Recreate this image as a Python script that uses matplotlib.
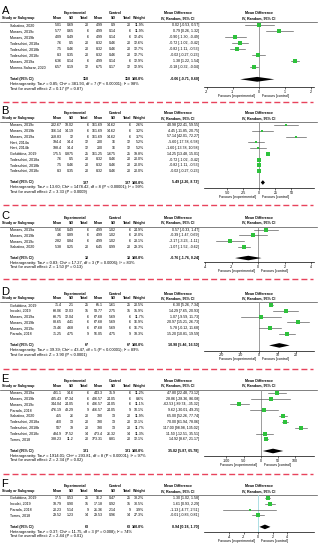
import matplotlib
matplotlib.use("Agg")
import matplotlib.pyplot as plt
import matplotlib.transforms as mtransforms
import numpy as np

plt.rcParams['font.family'] = ['Liberation Sans', 'DejaVu Sans']
plt.rcParams['axes.unicode_minus'] = False

# ---------------- data ----------------
# A
A_study = ["Sabatino, 2020", "Moraes, 2019c", "Moraes, 2019b", "Todeschini, 2018a",
           "Todeschini, 2018b", "Todeschini, 2018c", "Moraes, 2019a", "Moreno-Salazar, 2020"]
A_exp = [("5.01", "0.69", "20"), ("5.77", "0.65", "6"), ("4.09", "0.49", "6"), ("7.6", "0.5", "20"),
         ("7.5", "0.46", "20"), ("8.3", "0.35", "20"), ("6.36", "0.14", "6"), ("6.57", "0.19", "12")]
A_ctl = [("4.99", "0.9", "20"), ("4.99", "0.14", "6"), ("4.99", "0.14", "6"), ("8.32", "0.46", "20"),
         ("8.32", "0.46", "20"), ("8.32", "0.46", "20"), ("4.99", "0.14", "6"), ("6.75", "0.17", "12")]
A_weight = [11.9, 11.9, 12.4, 12.6, 12.7, 12.7, 12.9, 12.9]
A_md = [0.02, 0.79, -0.90, -0.72, -0.82, -0.02, 1.38, -0.18]
A_lo = [-0.53, 0.26, -1.30, -1.02, -1.11, -0.27, 1.22, -0.32]
A_hi = [0.57, 1.32, -0.49, -0.42, -0.53, 0.23, 1.54, -0.04]
A_total = (110, 110, -0.06, -0.71, 0.60)
A_het = "Heterogeneity: Tau² = 0.85; Chi² = 381.93, df = 7 (P < 0.00001); I² = 98%"
A_test = "Test for overall effect: Z = 0.17 (P = 0.87)"
A_ticks = [-2, -1, 0, 1, 2]

# B
B_study = ["Moraes, 2019c", "Moraes, 2019b", "Moraes, 2019a", "Hart, 2014a", "Hart, 2014b",
           "Golubkina, 2019", "Todeschini, 2018a", "Todeschini, 2018b", "Todeschini, 2018c"]
B_exp = [("202.67", "18.02", "6"), ("166.14", "14.19", "6"), ("218.83", "12", "6"), ("194.4", "14.4", "12"),
         ("198.4", "14.4", "12"), ("175.5", "0.875", "25"), ("7.6", "0.5", "20"), ("7.5", "0.46", "20"),
         ("8.3", "0.35", "20")]
B_ctl = [("161.69", "14.62", "6"), ("161.69", "14.62", "6"), ("161.69", "14.62", "6"), ("200", "16", "12"),
         ("200", "16", "12"), ("161.25", "1.675", "25"), ("8.32", "0.46", "20"), ("8.32", "0.46", "20"),
         ("8.32", "0.46", "20")]
B_weight = [2.6, 3.2, 3.7, 5.2, 5.2, 19.8, 20.0, 20.0, 20.0]
B_md = [40.98, 4.45, 57.14, -5.60, -1.60, 14.25, -0.72, -0.82, -0.02]
B_lo = [22.41, -11.85, 42.01, -17.78, -13.78, 13.48, -1.02, -1.11, -0.27]
B_hi = [59.55, 20.75, 72.27, 6.58, 10.58, 15.01, -0.42, -0.53, 0.23]
B_total = (127, 127, 5.49, 2.26, 8.73)
B_het = "Heterogeneity: Tau² = 13.60; Chi² = 1478.42, df = 8 (P < 0.00001); I² = 99%"
B_test = "Test for overall effect: Z = 3.33 (P = 0.0009)"
B_ticks = [-50, -25, 0, 25, 50]

# C
C_study = ["Moraes, 2019a", "Moraes, 2019b", "Moraes, 2019c", "Sabatino, 2020"]
C_exp = [("5.56", "0.49", "6"), ("4.6", "0.89", "6"), ("2.82", "0.84", "6"), ("5.38", "0.25", "20")]
C_ctl = [("4.99", "1.02", "6"), ("4.99", "1.02", "6"), ("4.99", "1.02", "6"), ("6.45", "0.99", "20")]
C_weight = [24.9, 22.0, 23.1, 29.3]
C_md = [0.57, -0.39, -2.17, -1.07]
C_lo = [-0.33, -1.47, -3.23, -1.52]
C_hi = [1.47, 0.69, -1.11, -0.62]
C_total = (38, 38, -0.76, -1.76, 0.24)
C_het = "Heterogeneity: Tau² = 0.83; Chi² = 17.27, df = 3 (P = 0.0006); I² = 83%"
C_test = "Test for overall effect: Z = 1.50 (P = 0.13)"
C_ticks = [-4, -2, 0, 2, 4]

# D
D_study = ["Golubkina, 2019", "Inculet, 2019", "Moraes, 2019a", "Moraes, 2019b", "Moraes, 2019c", "Parada, 2018"]
D_exp = [("71.4", "2.1", "25"), ("68.06", "12.03", "15"), ("68.75", "12.04", "6"), ("88.65", "4.41", "6"),
         ("73.46", "4.68", "6"), ("71.25", "4.75", "9")]
D_ctl = [("65.1", "1.61", "25"), ("53.77", "2.75", "15"), ("67.68", "5.69", "6"), ("67.68", "5.69", "6"),
         ("67.68", "5.69", "6"), ("56.05", "4.75", "9")]
D_weight = [20.5, 15.9, 11.7, 16.9, 16.7, 18.3]
D_md = [6.30, 14.29, 1.07, 20.97, 5.78, 15.20]
D_lo = [5.26, 7.65, -9.59, 15.21, -0.12, 10.81]
D_hi = [7.34, 20.93, 11.73, 26.73, 11.68, 19.59]
D_total = (67, 67, 10.98, 5.46, 16.50)
D_het = "Heterogeneity: Tau² = 39.39; Chi² = 43.47, df = 5 (P < 0.00001); I² = 89%"
D_test = "Test for overall effect: Z = 3.90 (P < 0.0001)"
D_ticks = [-20, -10, 0, 10, 20]

# E
E_study = ["Moraes, 2019a", "Moraes, 2019b", "Moraes, 2019c", "Parada, 2018", "Sabatino, 2020",
           "Todeschini, 2018a", "Todeschini, 2018b", "Todeschini, 2018c", "Torres, 2018"]
E_exp = [("491.1", "14.6", "6"), ("435.43", "67.34", "6"), ("344.04", "24.05", "6"), ("476.19", "43.29", "9"),
         ("455", "26", "20"), ("460", "13", "20"), ("507", "39", "20"), ("484.9", "37.52", "14"),
         ("388.23", "11.2", "20")]
E_ctl = [("443.3", "35.9", "6"), ("406.57", "24.05", "6"), ("406.57", "24.05", "6"), ("466.57", "24.05", "9"),
         ("390", "13", "20"), ("390", "13", "20"), ("390", "13", "20"), ("473.4", "26.32", "14"),
         ("373.31", "8.81", "20")]
E_weight = [11.2, 8.6, 11.1, 10.1, 11.9, 12.1, 11.7, 11.3, 12.1]
E_md = [47.80, 28.86, -62.53, 9.62, 65.00, 70.00, 117.00, 11.50, 14.92]
E_lo = [22.48, -28.36, -89.74, -30.01, 52.26, 61.94, 98.98, -12.51, 8.67]
E_hi = [73.12, 86.08, -35.32, 49.25, 77.74, 78.06, 135.02, 35.51, 21.17]
E_total = (121, 121, 35.82, 5.87, 65.78)
E_het = "Heterogeneity: Tau² = 1914.01; Chi² = 293.81, df = 8 (P < 0.00001); I² = 97%"
E_test = "Test for overall effect: Z = 2.34 (P = 0.02)"
E_ticks = [-100, -50, 0, 50, 100]

# F
F_study = ["Golubkina, 2019", "Inculet, 2019", "Parada, 2018", "Torres, 2018"]
F_exp = [("17.5", "0.53", "25"), ("18.79", "0.90", "15"), ("20.23", "5.14", "9"), ("29.52", "1.23", "14")]
F_ctl = [("16.2", "0.47", "25"), ("17.18", "0.92", "15"), ("21.36", "2.14", "9"), ("29.53", "0.96", "14")]
F_weight = [38.2, 30.5, 3.9, 27.3]
F_md = [1.30, 1.61, -1.13, -0.01]
F_lo = [1.02, 0.93, -4.77, -0.83]
F_hi = [1.58, 2.29, 2.51, 0.81]
F_total = (63, 63, 0.94, 0.18, 1.70)
F_het = "Heterogeneity: Tau² = 0.37; Chi² = 11.75, df = 3 (P = 0.008); I² = 74%"
F_test = "Test for overall effect: Z = 2.44 (P = 0.01)"
F_ticks = [-4, -2, 0, 2, 4]

# ---------------- layout ----------------
W, H = 325, 550
FOREST_L, FOREST_R = 204, 314
GREEN = '#2ec23c'
CI_COL = '#505050'
RED = '#e8435c'
FS = 2.6
FS_NOTE = 2.9

# label, data, row0 px, row step px, gap below last row to axis, xlim
panels = [
    dict(label='A', study=A_study, exp=A_exp, ctl=A_ctl, w=A_weight, md=A_md, lo=A_lo, hi=A_hi,
         total=A_total, het=A_het, test=A_test, ticks=A_ticks, row0=25.3, step=6.0, gap=2.3, xlim=(-2.1, 2.12)),
    dict(label='B', study=B_study, exp=B_exp, ctl=B_ctl, w=B_weight, md=B_md, lo=B_lo, hi=B_hi,
         total=B_total, het=B_het, test=B_test, ticks=B_ticks, row0=125.0, step=5.75, gap=2.0, xlim=(-86, 85)),
    dict(label='C', study=C_study, exp=C_exp, ctl=C_ctl, w=C_weight, md=C_md, lo=C_lo, hi=C_hi,
         total=C_total, het=C_het, test=C_test, ticks=C_ticks, row0=229.7, step=5.67, gap=1.75, xlim=(-4.1, 4.2)),
    dict(label='D', study=D_study, exp=D_exp, ctl=D_ctl, w=D_weight, md=D_md, lo=D_lo, hi=D_hi,
         total=D_total, het=D_het, test=D_test, ticks=D_ticks, row0=305.3, step=5.73, gap=1.9, xlim=(-29.3, 29.5)),
    dict(label='E', study=E_study, exp=E_exp, ctl=E_ctl, w=E_weight, md=E_md, lo=E_lo, hi=E_hi,
         total=E_total, het=E_het, test=E_test, ticks=E_ticks, row0=392.7, step=5.83, gap=1.86, xlim=(-165, 155)),
    dict(label='F', study=F_study, exp=F_exp, ctl=F_ctl, w=F_weight, md=F_md, lo=F_lo, hi=F_hi,
         total=F_total, het=F_het, test=F_test, ticks=F_ticks, row0=498.0, step=5.78, gap=1.93, xlim=(-7.45, 7.7),
         zero_col='#9fd9df'),
]
separators = [102, 205, 278.5, 368.5, 473.5]

# column x positions in px (right edges unless noted)
X_HEAD = 1.5
X_STUDY = 9.5
X_EXP = (62, 74, 88.5)
X_CTL = (102.5, 115.5, 131)
X_W = 144.5
X_CI = 199
X_EXP_C = 75
X_CTL_C = 115
X_MD_C = 178


def fmt(v):
    return "%.2f" % v


def draw_panel(fig, base, p):
    n = len(p['study'])
    ybot = n + p['gap']
    top_px = p['row0'] - 0.5 * p['step']
    bot_px = p['row0'] + ybot * p['step']
    ax = fig.add_axes([FOREST_L / W, 1 - bot_px / H, (FOREST_R - FOREST_L) / W, (bot_px - top_px) / H])
    ax.set_facecolor('none')
    ax.set_xlim(*p['xlim'])
    ax.set_ylim(ybot, -0.5)
    for s in ['left', 'right', 'top']:
        ax.spines[s].set_visible(False)
    ax.spines['bottom'].set_linewidth(0.5)
    ax.set_yticks([])
    ax.set_xticks(p['ticks'])
    ax.tick_params(axis='x', length=1.5, width=0.4, pad=0.4, labelsize=FS)
    ax.axvline(0, color=p.get('zero_col', '#8c8c8c'), lw=0.6, zorder=1)

    # study rows
    wmax = max(p['w'])
    for i in range(n):
        ax.plot([p['lo'][i], p['hi'][i]], [i, i], color=CI_COL, lw=0.45, zorder=2)
        ms = 1.0 + 1.6 * np.sqrt(p['w'][i] / wmax)
        ax.plot(p['md'][i], i, 's', ms=ms, color=GREEN, mec=GREEN, mew=0, zorder=3)

    # pooled diamond
    nt, nc, md, lo, hi = p['total']
    yt = n + 1
    h = 0.4
    ax.fill([lo, md, hi, md], [yt, yt - h, yt, yt + h], color='black', lw=0, zorder=3)

    ax.annotate('Favours [experimental]', xy=(0, 0), xycoords=('data', 'axes fraction'),
                xytext=(-3, -8.5), textcoords='offset pixels', ha='right', va='center', fontsize=FS)
    ax.annotate('Favours [control]', xy=(0, 0), xycoords=('data', 'axes fraction'),
                xytext=(3, -8.5), textcoords='offset pixels', ha='left', va='center', fontsize=FS)

    # table text, rows share the forest's y scale
    tr = mtransforms.blended_transform_factory(base.transData, ax.transData)
    kw = dict(transform=tr, fontsize=FS, va='center')
    base.text(1.5, -2.4, p['label'], transform=tr, fontsize=8, va='center', ha='left')
    base.text(X_EXP_C, -2.05, 'Experimental', ha='center', weight='bold', **kw)
    base.text(X_CTL_C, -2.05, 'Control', ha='center', weight='bold', **kw)
    base.text(X_MD_C, -2.05, 'Mean Difference', ha='center', weight='bold', **kw)
    base.text((FOREST_L + FOREST_R) / 2, -2.05, 'Mean Difference', ha='center', weight='bold', **kw)
    base.text(X_HEAD, -1.2, 'Study or Subgroup', ha='left', weight='bold', **kw)
    for x, t in zip(X_EXP + X_CTL, ['Mean', 'SD', 'Total'] * 2):
        base.text(x, -1.2, t, ha='right', weight='bold', **kw)
    base.text(X_W, -1.2, 'Weight', ha='right', weight='bold', **kw)
    base.text(X_MD_C, -1.2, 'IV, Random, 95% CI', ha='center', weight='bold', **kw)
    base.text((FOREST_L + FOREST_R) / 2, -1.2, 'IV, Random, 95% CI', ha='center', weight='bold', **kw)
    base.plot([0, 317], [-0.5, -0.5], transform=tr, color='#4d4d4d', lw=0.5)

    for i in range(n):
        base.text(X_STUDY, i, p['study'][i], ha='left', **kw)
        for x, t in zip(X_EXP, p['exp'][i]):
            base.text(x, i, t, ha='right', **kw)
        for x, t in zip(X_CTL, p['ctl'][i]):
            base.text(x, i, t, ha='right', **kw)
        base.text(X_W, i, "%.1f%%" % p['w'][i], ha='right', **kw)
        base.text(X_CI, i, "%s [%s, %s]" % (fmt(p['md'][i]), fmt(p['lo'][i]), fmt(p['hi'][i])), ha='right', **kw)

    base.text(X_STUDY, yt, 'Total (95% CI)', ha='left', weight='bold', **kw)
    base.text(X_EXP[2], yt, str(nt), ha='right', weight='bold', **kw)
    base.text(X_CTL[2], yt, str(nc), ha='right', weight='bold', **kw)
    base.text(X_W, yt, '100.0%', ha='right', weight='bold', **kw)
    base.text(X_CI, yt, "%s [%s, %s]" % (fmt(md), fmt(lo), fmt(hi)), ha='right', weight='bold', **kw)
    base.text(X_STUDY, yt + 0.8, p['het'], ha='left', transform=tr, fontsize=FS_NOTE, va='center')
    base.text(X_STUDY, yt + 1.6, p['test'], ha='left', transform=tr, fontsize=FS_NOTE, va='center')


fig = plt.figure(figsize=(W / 100, H / 100), dpi=100)
base = fig.add_axes([0, 0, 1, 1])
base.set_xlim(0, W)
base.set_ylim(H, 0)
base.axis('off')

for y in separators:
    base.plot([3, 313], [y, y], color=RED, lw=1.0, dashes=(4.3, 2.2))

for p in panels:
    draw_panel(fig, base, p)

fig.savefig('out.png', dpi=100, facecolor='white')
